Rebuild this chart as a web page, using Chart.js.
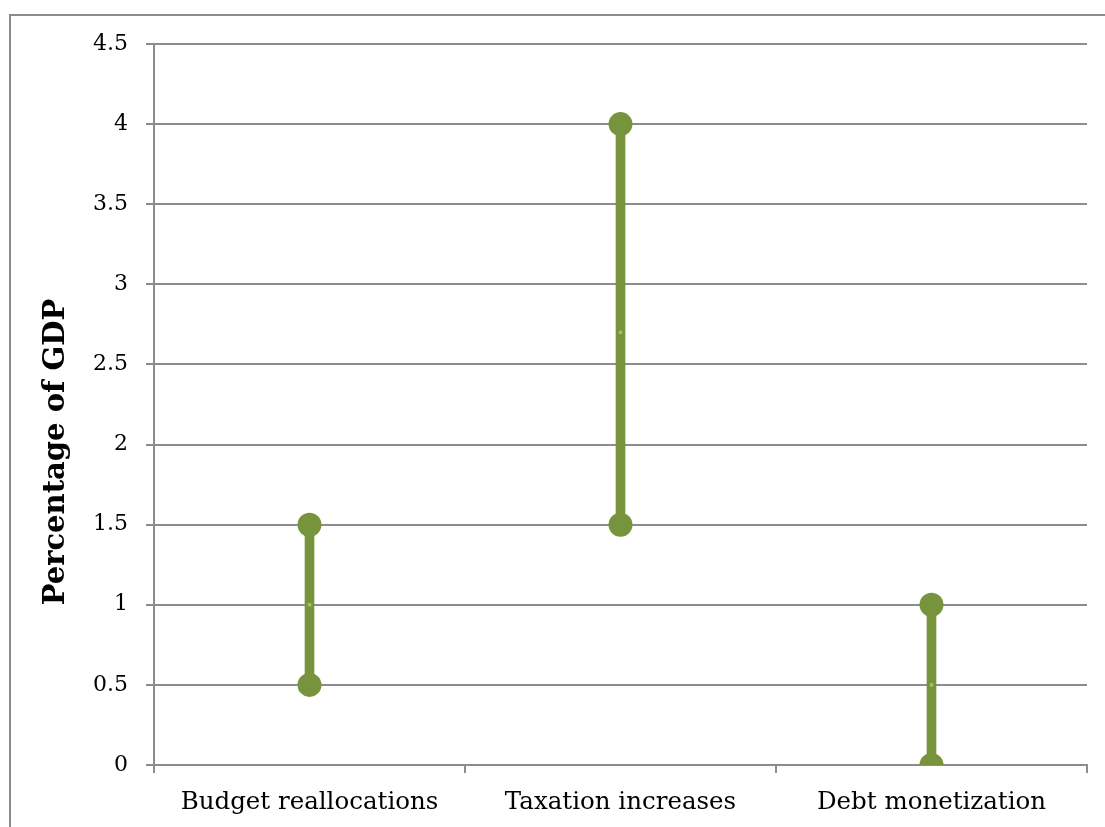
<!DOCTYPE html>
<html>
<head>
<meta charset="utf-8">
<script src="https://cdn.jsdelivr.net/npm/chart.js@4/dist/chart.umd.min.js"></script>
<style>
  html, body { margin: 0; padding: 0; overflow: hidden; background: #fff; }
  #frame {
    position: absolute; left: 9px; top: 14px;
    width: 1300px; height: 1000px;
    border: 2px solid #8c8c8c;
  }
  #chart { position: absolute; left: 0; top: 0; }
</style>
</head>
<body>
<div id="frame"></div>
<canvas id="chart" width="1105" height="827"></canvas>
<script>
const categories = ["Budget reallocations", "Taxation increases", "Debt monetization"];
const lowValues = [0.5, 1.5, 0];
const highValues = [1.5, 4, 1];
const midValues = [1, 2.7, 0.5];
const yTickStep = 0.5;
const yMax = 4.5;

const green = "#77933c";
const gridGrey = "#8c8c8c";
const serif = "'DejaVu Serif', 'Liberation Serif', serif";

// vertical axis title, drawn by hand so it can sit a little below the middle
const yTitle = {
  id: "yTitle",
  afterDraw(chart) {
    const ctx = chart.ctx;
    ctx.save();
    ctx.translate(56, 452);
    ctx.rotate(-Math.PI / 2);
    ctx.font = "bold 29px " + serif;
    ctx.fillStyle = "#000";
    ctx.textAlign = "center";
    ctx.textBaseline = "middle";
    ctx.fillText("Percentage of GDP", 0, 0);
    ctx.restore();
  },
};

const pointSet = (data, order) => ({
  type: "line",
  data,
  showLine: false,
  pointRadius: 12,
  pointHoverRadius: 12,
  pointBackgroundColor: green,
  pointBorderWidth: 0,
  borderColor: green,
  clip: 0,
  order,
});

new Chart(document.getElementById("chart"), {
  type: "bar",
  data: {
    labels: categories,
    datasets: [
      {
        data: lowValues.map((lo, i) => [lo, highValues[i]]),
        backgroundColor: green,
        barThickness: 9,
        order: 3,
      },
      pointSet(highValues, 2),
      pointSet(lowValues, 2),
      {
        type: "line",
        data: midValues,
        showLine: false,
        pointStyle: "rect",
        pointRadius: 2.5,
        pointBackgroundColor: "#9dc455",
        pointBorderWidth: 0,
        clip: 0,
        order: 1,
      },
    ],
  },
  options: {
    responsive: false,
    animation: false,
    layout: { padding: { top: 44, right: 18, bottom: 0, left: 0 } },
    plugins: { legend: { display: false }, tooltip: { enabled: false } },
    scales: {
      x: {
        afterFit: (s) => { s.height = 62; },
        grid: { drawOnChartArea: false, offset: true, tickLength: 8, color: gridGrey, lineWidth: 2 },
        border: { color: gridGrey, width: 2 },
        ticks: { color: "#000", font: { family: serif, size: 24.5 }, padding: 15 },
      },
      y: {
        min: 0,
        max: yMax,
        afterFit: (s) => { s.width = 154; },
        grid: { color: gridGrey, lineWidth: 2, tickLength: 8 },
        border: { color: gridGrey, width: 2 },
        ticks: {
          stepSize: yTickStep,
          color: "#000",
          font: { family: serif, size: 22 },
          padding: 18,
          callback: (v) => String(v),
        },
      },
    },
  },
  plugins: [yTitle],
});
</script>
</body>
</html>
